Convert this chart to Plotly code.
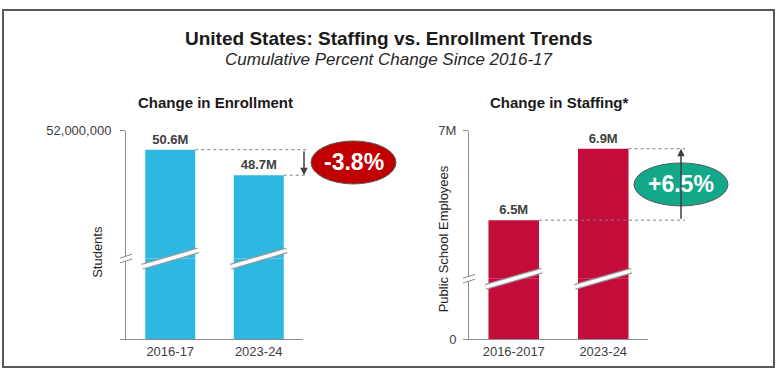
import plotly.graph_objects as go

W, H = 777, 377

# ---------------- data ----------------
enroll_years = ["2016-17", "2023-24"]
enroll_values = [50.6e6, 48.7e6]
enroll_labels = ["50.6M", "48.7M"]
enroll_change = "-3.8%"

staff_years = ["2016-2017", "2023-24"]
staff_values = [6.5e6, 6.9e6]
staff_labels = ["6.5M", "6.9M"]
staff_change = "+6.5%"

enroll_top_tick = [52e6]
enroll_top_text = ["52,000,000"]
staff_top_tick = [7e6]
staff_top_text = ["7M"]

# ---------------- styling / geometry ----------------
FONT = "Liberation Sans, Arial, sans-serif"
BLUE = "#2DB7E1"
RED = "#C20D3B"
AX = "#8C8C8C"
TXT = "#404040"
OVAL_RED = "#C00000"
OVAL_GREEN = "#14A88A"

L_X0, L_X1 = 126, 303
R_X0, R_X1 = 469, 648
Y_TOP, Y_BOT = 129, 346
L_BRK, R_BRK = 262, 283
BARGAP = 0.435


def px(x):
    return x / W


def py(y):
    return 1 - y / H


def bar_edges(x0, x1, i):
    cw = (x1 - x0) / 2
    c = x0 + (i + 0.5) * cw
    hw = (1 - BARGAP) * cw / 2
    return c - hw, c + hw


fig = go.Figure()

for ya in ["y", "y2"]:
    fig.add_trace(go.Bar(
        x=enroll_years, y=enroll_values, xaxis="x", yaxis=ya,
        marker=dict(color=BLUE, line=dict(width=0)),
        text=[f"<b>{t}</b>" for t in enroll_labels] if ya == "y" else None,
        textposition="outside", cliponaxis=False,
        textfont=dict(size=13, color=TXT, family=FONT),
        hoverinfo="skip", showlegend=False))

for ya in ["y3", "y4"]:
    fig.add_trace(go.Bar(
        x=staff_years, y=staff_values, xaxis="x2", yaxis=ya,
        marker=dict(color=RED, line=dict(width=0)),
        text=[f"<b>{t}</b>" for t in staff_labels] if ya == "y3" else None,
        textposition="outside", cliponaxis=False,
        textfont=dict(size=13, color=TXT, family=FONT),
        hoverinfo="skip", showlegend=False))

axis_common = dict(showline=True, linecolor=AX, linewidth=1, showgrid=False,
                   zeroline=False, tickfont=dict(size=13, color=TXT, family=FONT))

fig.update_layout(
    width=W, height=H, autosize=False,
    margin=dict(l=0, r=0, t=0, b=0),
    paper_bgcolor="white", plot_bgcolor="white",
    bargap=BARGAP,
    font=dict(family=FONT, color=TXT),
    xaxis=dict(domain=[px(L_X0), px(L_X1)], anchor="y2", ticks="", **axis_common),
    yaxis=dict(domain=[py(L_BRK), py(Y_TOP)], anchor="x", range=[42.5e6, 52e6],
               tickvals=enroll_top_tick, ticktext=enroll_top_text, ticklabelstandoff=6,
               ticks="outside", ticklen=5, tickcolor=AX, **axis_common),
    yaxis2=dict(domain=[py(Y_BOT), py(L_BRK)], anchor="x", range=[0, 10e6],
                tickvals=[0], ticktext=[""], ticks="outside", ticklen=5,
                tickcolor=AX, **axis_common),
    xaxis2=dict(domain=[px(R_X0), px(R_X1)], anchor="y4", ticks="", **axis_common),
    yaxis3=dict(domain=[py(R_BRK), py(Y_TOP)], anchor="x2", range=[6.172e6, 7e6],
                tickvals=staff_top_tick, ticktext=staff_top_text, ticklabelstandoff=4,
                ticks="outside", ticklen=5, tickcolor=AX, **axis_common),
    yaxis4=dict(domain=[py(Y_BOT), py(R_BRK)], anchor="x2", range=[0, 1e6],
                tickvals=[0], ticktext=["0"], ticklabelstandoff=4,
                ticks="outside", ticklen=5, tickcolor=AX, **axis_common),
)

shapes = []
annotations = []


def label(text, x, y, size, color, angle=0):
    annotations.append(dict(text=text, x=px(x), y=py(y), xref="paper", yref="paper",
                            xanchor="center", yanchor="middle", textangle=angle,
                            showarrow=False, font=dict(size=size, color=color)))


label("<b>United States: Staffing vs. Enrollment Trends</b>", 389, 33, 19, "#1a1a1a")
label("<i>Cumulative Percent Change Since 2016-17</i>", 389, 55, 17, "#262626")
label("<b>Change in Enrollment</b>", 215.5, 99, 15, "#1a1a1a")
label("<b>Change in Staffing*</b>", 559, 99, 15, "#1a1a1a")
label("Students", 98, 255, 13, "#262626", -90)
label("Public School Employees", 443, 242, 13, "#262626", -90)


def indicator(x0, x1, yref, v_from, v_to, arrow_x, line_end, oval_cx, oval_w, color, text):
    for i, v in enumerate([v_from, v_to]):
        _, right = bar_edges(x0, x1, i)
        shapes.append(dict(type="line", xref="paper", yref=yref, x0=px(right), x1=px(line_end),
                           y0=v, y1=v, line=dict(color="#7f7f7f", width=1, dash="dot")))
    annotations.append(dict(x=px(arrow_x), y=v_to, xref="paper", yref=yref,
                            ax=0, ay=v_from, axref="pixel", ayref=yref,
                            showarrow=True, arrowhead=2, arrowsize=1, arrowwidth=1.5,
                            arrowcolor="#404040", text="", standoff=0, startstandoff=0))
    mid = (v_from + v_to) / 2
    shapes.append(dict(type="circle", xref="paper", yref=yref,
                       xsizemode="pixel", xanchor=px(oval_cx), x0=-oval_w / 2, x1=oval_w / 2,
                       ysizemode="pixel", yanchor=mid, y0=-21.5, y1=21.5,
                       fillcolor=color, line=dict(color="#5a5a5a", width=1), layer="above"))
    annotations.append(dict(text=f"<b>{text}</b>", x=px(oval_cx), y=mid, xref="paper",
                            yref=yref, xanchor="center", yanchor="middle", showarrow=False,
                            font=dict(size=23, color="white")))


indicator(L_X0, L_X1, "y", enroll_values[0], enroll_values[1], 304, 307, 353.5, 85,
          OVAL_RED, enroll_change)
indicator(R_X0, R_X1, "y3", staff_values[0], staff_values[1], 681, 685, 681, 94,
          OVAL_GREEN, staff_change)


def breaks(x0, x1, brk):
    for i in range(2):
        left, right = bar_edges(x0, x1, i)
        for col, wd in [("#9a9a9a", 6), ("white", 3.5)]:
            shapes.append(dict(type="line", xref="paper", yref="paper",
                               x0=px(left - 3), y0=py(brk + 8.5), x1=px(right + 3), y1=py(brk - 8.5),
                               line=dict(color=col, width=wd), layer="above"))
    shapes.append(dict(type="line", xref="paper", yref="paper", x0=px(x0), x1=px(x0),
                       y0=py(brk - 2.5), y1=py(brk + 2.5), line=dict(color="white", width=3),
                       layer="above"))
    for dy in (-2.5, 2.5):
        shapes.append(dict(type="line", xref="paper", yref="paper",
                           x0=px(x0 - 6), y0=py(brk + dy + 2), x1=px(x0 + 6), y1=py(brk + dy - 2),
                           line=dict(color=AX, width=1), layer="above"))


breaks(L_X0, L_X1, L_BRK)
breaks(R_X0, R_X1, R_BRK)

shapes.append(dict(type="rect", xref="paper", yref="paper", x0=px(3), x1=px(774),
                   y0=py(375), y1=py(3), line=dict(color="#595959", width=2)))

fig.update_layout(shapes=shapes, annotations=annotations)

POST = (
    "var s=document.documentElement.style;s.margin='0';s.padding='0';s.overflow='hidden';"
    "var b=document.body.style;b.margin='0';b.padding='0';b.overflow='hidden';"
    "var d=document.getElementById('{plot_id}');"
    "d.style.position='fixed';d.style.left='0px';d.style.top='0px';"
)
fig.write_html("out.html", config={"displayModeBar": False, "responsive": False},
               post_script=POST)
